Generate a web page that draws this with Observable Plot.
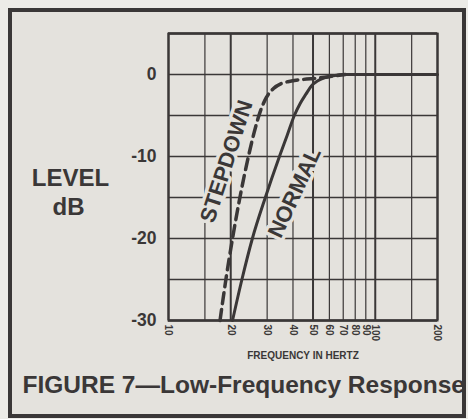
<!DOCTYPE html>
<html>
<head>
<meta charset="utf-8">
<script src="https://cdn.jsdelivr.net/npm/d3@7"></script>
<script src="https://cdn.jsdelivr.net/npm/@observablehq/plot@0.6"></script>
<style>
  html, body { margin: 0; padding: 0; background: #ecebe7; }
  #wrap { position: relative; width: 468px; height: 419px; background: #ecebe7; overflow: hidden; }
  #panel { position: absolute; left: 8px; top: 8px; width: 458px; height: 410px; box-sizing: border-box;
           border: 4px solid #3a3737; background: #e4e2dd; }
  #chart { position: absolute; left: 0; top: 0; }
</style>
</head>
<body>
<div id="wrap"><div id="panel"></div><div id="chart"></div></div>
<script>
// ---- data ----
const xDomain = [10, 200];
const yDomain = [-30, 5];
const xTicks = [10, 20, 30, 40, 50, 60, 70, 80, 90, 100, 200];
const xGridThin = [15, 30, 40, 60, 70, 80, 90, 150];
const xGridBold = [20, 50, 100];
const yTicks = [0, -10, -20, -30];
const yGrid = [-25, -20, -15, -10, -5, 0];

const normalFreq  = [20.4, 22.65, 25.45, 29.4, 34.4, 37.4, 40.6, 43.4, 46.2, 49.1, 52.5, 56.7, 62.7, 71.6, 100, 200];
const normalLevel = [-30, -25, -20, -15, -10, -7.5, -5, -3.5, -2.4, -1.4, -0.8, -0.4, -0.15, 0, 0, 0];

const stepFreq  = [17.75, 18.95, 20.4, 22.15, 24.35, 26.0, 27.8, 29.75, 32.2, 35.15, 39.3, 44.9, 52.5, 60.6, 71.6];
const stepLevel = [-30, -25, -20, -15, -10, -7, -4.5, -2.8, -1.7, -1.1, -0.8, -0.6, -0.45, -0.25, 0];

const curveNames = ["STEPDOWN", "NORMAL"];
const curveNameFreq = [19.1, 40.8];
const curveNameLevel = [-10.6, -14.4];

const titleText = "FIGURE 7\u2014Low-Frequency Response";
const yTitle = ["LEVEL", "dB"];
const xTitle = "FREQUENCY IN HERTZ";

// ---- build tables ----
const normal = normalFreq.map((f, i) => ({f, db: normalLevel[i]}));
const stepdown = stepFreq.map((f, i) => ({f, db: stepLevel[i]}));
const nameRows = curveNames.map((n, i) => ({n, f: curveNameFreq[i], db: curveNameLevel[i]}));

const INK = "#3a3737";
const BG = "#e4e2dd";
const FONT = "'Liberation Sans', Arial, Helvetica, sans-serif";

const chart = Plot.plot({
  width: 468, height: 419,
  marginLeft: 168, marginRight: 31, marginTop: 33, marginBottom: 99,
  style: {background: "transparent", fontFamily: FONT, color: INK},
  x: {type: "log", domain: xDomain, label: null},
  y: {domain: yDomain, label: null},
  marks: [
    Plot.ruleX(xGridThin, {stroke: INK, strokeWidth: 1.2}),
    Plot.ruleX(xGridBold, {stroke: INK, strokeWidth: 2}),
    Plot.ruleY(yGrid, {stroke: INK, strokeWidth: 1.4}),
    Plot.frame({stroke: INK, strokeWidth: 2}),
    Plot.axisY({ticks: yTicks, tickSize: 0, tickPadding: 12, tickFormat: d => String(d),
                fontSize: 17.5, fontWeight: "bold", fill: INK, label: null}),
    Plot.axisX({ticks: xTicks, tickSize: 0, tickPadding: 4, tickRotate: 90, tickFormat: d => String(d),
                fontSize: 10, fontWeight: "bold", fill: INK, label: null}),
    Plot.text([xTitle], {frameAnchor: "bottom", dy: 35, text: d => d, fontSize: 10, fontWeight: "bold",
                fill: INK, lineAnchor: "middle"}),
    Plot.text([yTitle[0]], {frameAnchor: "left", dx: -98, dy: 1, text: d => d, fontSize: 24, fontWeight: "bold",
                fill: INK, textAnchor: "middle", lineAnchor: "middle"}),
    Plot.text([yTitle[1]], {frameAnchor: "left", dx: -100, dy: 30, text: d => d, fontSize: 24, fontWeight: "bold",
                fill: INK, textAnchor: "middle", lineAnchor: "middle"}),
    Plot.text([titleText], {frameAnchor: "bottom-left", dx: -146, dy: 65, text: d => d, fontSize: 24.5,
                fontWeight: "bold", fill: INK, textAnchor: "start", lineAnchor: "middle"}),
    Plot.text(nameRows.filter(d => d.n === "STEPDOWN"), {x: "f", y: "db", text: "n", rotate: -72, fontSize: 22,
                fontWeight: "bold", fill: INK, stroke: BG, strokeWidth: 7}),
    Plot.text(nameRows.filter(d => d.n === "NORMAL"), {x: "f", y: "db", text: "n", rotate: -65, fontSize: 22,
                fontWeight: "bold", fill: INK, stroke: BG, strokeWidth: 7}),
    Plot.line(stepdown, {x: "f", y: "db", stroke: INK, strokeWidth: 3.5, strokeDasharray: "11,6",
                curve: "monotone-x"}),
    Plot.line(normal, {x: "f", y: "db", stroke: INK, strokeWidth: 3, curve: "monotone-x"}),
    Plot.ruleY(yDomain, {stroke: INK, strokeWidth: 2.5}),
    Plot.ruleX(xDomain, {stroke: INK, strokeWidth: 2})
  ]
});
document.getElementById("chart").appendChild(chart);
</script>
</body>
</html>
